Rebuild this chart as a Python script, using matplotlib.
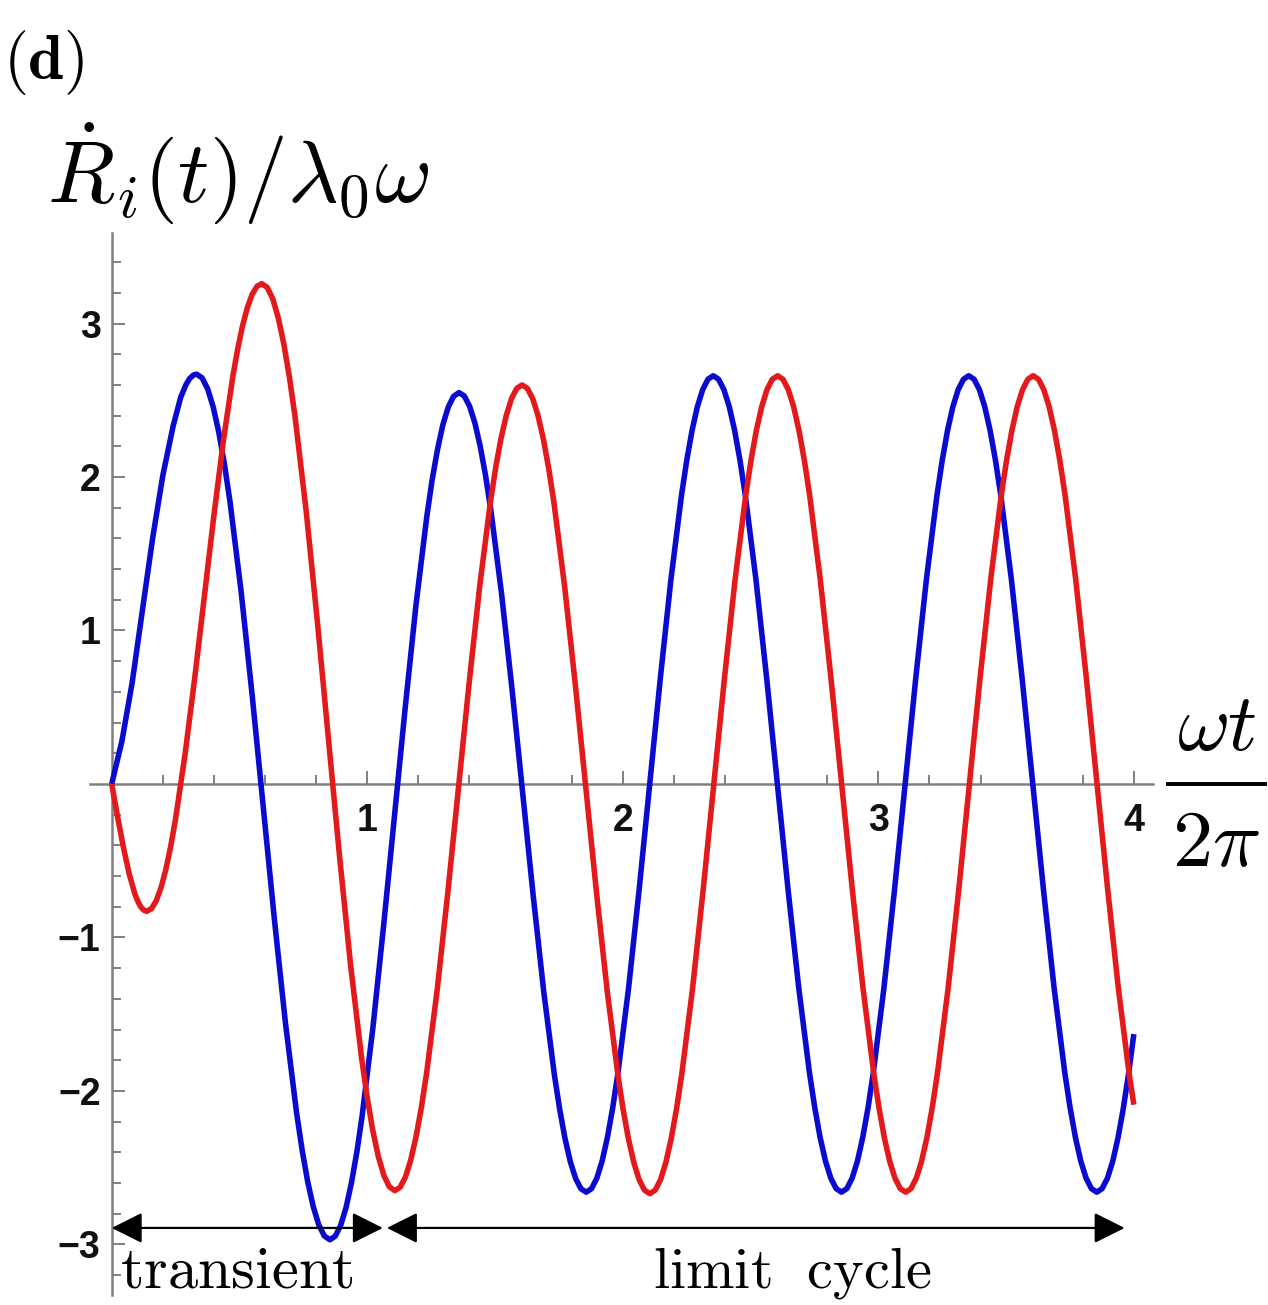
import numpy as np
import matplotlib
matplotlib.use('Agg')
import matplotlib.pyplot as plt
from matplotlib.patches import FancyArrowPatch, ArrowStyle
from matplotlib.lines import Line2D
from matplotlib.ticker import FixedLocator

plt.rcParams['mathtext.fontset'] = 'cm'

# ---- data (x = omega t / 2 pi) ----
blue_x = [0, 0.04, 0.08, 0.12, 0.16, 0.20, 0.24, 0.27, 0.29, 0.305, 0.32,
          0.332, 0.3538, 0.3755, 0.3973, 0.419, 0.4408, 0.4625, 0.506, 0.5495, 0.593, 0.6365, 0.680,
          0.7235, 0.7453, 0.767, 0.7888, 0.8105, 0.8323,
          0.854, 0.8750, 0.896, 0.9171, 0.938, 0.9592, 0.980, 1.022, 1.064, 1.1065, 1.149, 1.191,
          1.233, 1.2538, 1.275, 1.2959, 1.317, 1.3380,
          1.359, 1.3798, 1.4005, 1.4213, 1.442, 1.4628, 1.4835, 1.525, 1.5665, 1.608, 1.6495, 1.691,
          1.7325, 1.7533, 1.774, 1.7948, 1.8155, 1.8363,
          1.857, 1.8777, 1.8984, 1.9191, 1.9398, 1.9606, 1.9813, 2.0227, 2.0641, 2.1055, 2.1469, 2.1883,
          2.2298, 2.2505, 2.2712, 2.2919, 2.3126, 2.3333,
          2.354, 2.3749, 2.3958, 2.4167, 2.4377, 2.4586, 2.4795, 2.5213, 2.5632, 2.605, 2.6468, 2.6887,
          2.7305, 2.7514, 2.7723, 2.7933, 2.8142, 2.8351,
          2.856, 2.8768, 2.8975, 2.9183, 2.939, 2.9598, 2.9805, 3.022, 3.0635, 3.105, 3.1465, 3.188,
          3.2295, 3.2503, 3.271, 3.2918, 3.3125, 3.3333,
          3.354, 3.3749, 3.3958, 3.4166, 3.4375, 3.4584, 3.4793, 3.521, 3.5628, 3.6045, 3.6463, 3.688,
          3.7298, 3.7506, 3.7715, 3.7924, 3.8133, 3.8341,
          3.855, 3.8758, 3.8967, 3.9175, 3.9383, 3.9592, 3.980, 4.0]
blue_y = [0, 0.28, 0.66, 1.13, 1.60, 2.01, 2.33, 2.52, 2.60, 2.642, 2.665,
          2.67, 2.646, 2.574, 2.455, 2.292, 2.087, 1.844, 1.26, 0.580, -0.15, -0.880, -1.56,
          -2.144, -2.387, -2.592, -2.755, -2.874, -2.946,
          -2.97, -2.946, -2.876, -2.760, -2.600, -2.400, -2.162, -1.59, -0.924, -0.21, 0.504, 1.17,
          1.742, 1.980, 2.180, 2.340, 2.456, 2.526,
          2.55, 2.528, 2.461, 2.352, 2.201, 2.012, 1.787, 1.248, 0.619, -0.055, -0.729, -1.358,
          -1.897, -2.122, -2.311, -2.462, -2.571, -2.638,
          -2.66, -2.637, -2.569, -2.458, -2.304, -2.110, -1.881, -1.33, -0.688, 0, 0.688, 1.33,
          1.881, 2.110, 2.304, 2.458, 2.569, 2.637,
          2.66, 2.637, 2.569, 2.458, 2.304, 2.110, 1.881, 1.33, 0.688, 0, -0.688, -1.33,
          -1.881, -2.110, -2.304, -2.458, -2.569, -2.637,
          -2.66, -2.637, -2.569, -2.458, -2.304, -2.110, -1.881, -1.33, -0.688, 0, 0.688, 1.33,
          1.881, 2.110, 2.304, 2.458, 2.569, 2.637,
          2.66, 2.637, 2.569, 2.458, 2.304, 2.110, 1.881, 1.33, 0.688, 0, -0.688, -1.33,
          -1.881, -2.110, -2.304, -2.458, -2.569, -2.637,
          -2.66, -2.637, -2.569, -2.458, -2.304, -2.110, -1.881, -1.63]

red_x = [0, 0.023, 0.046, 0.0685, 0.091, 0.103, 0.114, 0.126,
         0.137, 0.1558, 0.1745, 0.1933, 0.212, 0.2308, 0.2495, 0.287, 0.3245, 0.362, 0.3995, 0.437,
         0.4745, 0.4933, 0.512, 0.5308, 0.5495, 0.5683,
         0.587, 0.6087, 0.6304, 0.6521, 0.6738, 0.6956, 0.7173, 0.7607, 0.8041, 0.8475, 0.8909, 0.9343,
         0.9778, 0.9995, 1.0212, 1.0429, 1.0646, 1.0863,
         1.108, 1.1288, 1.1495, 1.1703, 1.191, 1.2118, 1.2325, 1.274, 1.3155, 1.357, 1.3985, 1.440,
         1.4815, 1.5023, 1.523, 1.5438, 1.5645, 1.5853,
         1.606, 1.6268, 1.6477, 1.6685, 1.6893, 1.7102, 1.731, 1.7727, 1.8143, 1.856, 1.8977, 1.9393,
         1.981, 2.0018, 2.0227, 2.0435, 2.0643, 2.0852,
         2.106, 2.1268, 2.1477, 2.1685, 2.1893, 2.2102, 2.231, 2.2727, 2.3143, 2.356, 2.3977, 2.4393,
         2.481, 2.5018, 2.5227, 2.5435, 2.5643, 2.5852,
         2.606, 2.6269, 2.6478, 2.6686, 2.6895, 2.7104, 2.7313, 2.773, 2.8148, 2.8565, 2.8983, 2.940,
         2.9818, 3.0026, 3.0235, 3.0444, 3.0653, 3.0861,
         3.107, 3.1278, 3.1486, 3.1694, 3.1902, 3.2110, 3.2317, 3.2733, 3.3149, 3.3565, 3.3981, 3.4397,
         3.4812, 3.5020, 3.5228, 3.5436, 3.5644, 3.5852,
         3.606, 3.6268, 3.6477, 3.6685, 3.6893, 3.7102, 3.731, 3.7727, 3.8143, 3.856, 3.8977, 3.9393,
         3.981, 4.0]
red_y = [0, -0.215, -0.415, -0.587, -0.719, -0.768, -0.802, -0.823,
         -0.83, -0.812, -0.760, -0.674, -0.556, -0.407, -0.231, 0.193, 0.686, 1.215, 1.744, 2.238,
         2.661, 2.837, 2.986, 3.104, 3.190, 3.2425,
         3.26, 3.235, 3.160, 3.035, 2.864, 2.649, 2.395, 1.783, 1.070, 0.305, -0.460, -1.173,
         -1.785, -2.039, -2.254, -2.425, -2.549, -2.625,
         -2.65, -2.628, -2.561, -2.450, -2.298, -2.108, -1.881, -1.338, -0.704, -0.025, 0.654, 1.288,
         1.831, 2.058, 2.248, 2.400, 2.511, 2.578,
         2.60, 2.577, 2.510, 2.399, 2.247, 2.055, 1.829, 1.283, 0.647, -0.035, -0.717, -1.353,
         -1.898, -2.126, -2.317, -2.469, -2.580, -2.647,
         -2.67, -2.647, -2.579, -2.467, -2.313, -2.119, -1.890, -1.338, -0.695, -0.005, 0.685, 1.328,
         1.880, 2.109, 2.303, 2.457, 2.569, 2.637,
         2.66, 2.637, 2.569, 2.458, 2.304, 2.110, 1.881, 1.33, 0.688, 0, -0.688, -1.33,
         -1.881, -2.110, -2.304, -2.458, -2.569, -2.637,
         -2.66, -2.637, -2.569, -2.458, -2.304, -2.110, -1.881, -1.33, -0.688, 0, 0.688, 1.33,
         1.881, 2.110, 2.304, 2.458, 2.569, 2.637,
         2.66, 2.637, 2.569, 2.458, 2.304, 2.110, 1.881, 1.33, 0.688, 0, -0.688, -1.33,
         -1.881, -2.09]

x_major = [1, 2, 3, 4]
x_major_labels = ['1', '2', '3', '4']
y_major = [-3, -2, -1, 1, 2, 3]
y_major_labels = ['\u22123', '\u22122', '\u22121', '1', '2', '3']
x_minor = [0.2, 0.4, 0.6, 0.8, 1.2, 1.4, 1.6, 1.8, 2.2, 2.4, 2.6, 2.8, 3.2, 3.4, 3.6, 3.8]
y_minor = [-3.2, -2.8, -2.6, -2.4, -2.2, -1.8, -1.6, -1.4, -1.2, -0.8, -0.6, -0.4, -0.2,
           0.2, 0.4, 0.6, 0.8, 1.2, 1.4, 1.6, 1.8, 2.2, 2.4, 2.6, 2.8, 3.2, 3.4]

transient_span = (0.0, 1.061)
limit_span = (1.077, 3.964)
arrow_level = -2.893

W, H = 1268, 1305
fig = plt.figure(figsize=(W / 100, H / 100), dpi=100)
ax = fig.add_axes([90 / W, 1 - 1295 / H, (1153 - 90) / W, (1295 - 233) / H])
ax.set_xlim(-0.085, 4.075)
ax.set_ylim(-3.33, 3.59)

axis_col = '#808080'
for s in ['top', 'right']:
    ax.spines[s].set_visible(False)
for s in ['left', 'bottom']:
    ax.spines[s].set_position(('data', 0))
    ax.spines[s].set_color(axis_col)
    ax.spines[s].set_linewidth(1.8)

ax.xaxis.set_major_locator(FixedLocator(x_major))
ax.xaxis.set_minor_locator(FixedLocator(x_minor))
ax.yaxis.set_major_locator(FixedLocator(y_major))
ax.yaxis.set_minor_locator(FixedLocator(y_minor))
ax.set_xticklabels(x_major_labels)
ax.set_yticklabels(y_major_labels)
ax.tick_params(which='both', direction='in', color=axis_col, width=1.4)
ax.tick_params(which='major', length=9.5)
ax.tick_params(which='minor', length=6.2)
ax.tick_params(axis='x', which='major', pad=14)
ax.tick_params(axis='y', which='major', pad=8)
for lab in ax.get_xticklabels() + ax.get_yticklabels():
    lab.set_fontfamily('Liberation Sans')
    lab.set_fontweight('bold')
    lab.set_fontsize(27)
    lab.set_color('#111111')

ax.plot(blue_x, blue_y, color='#0a0ad0', lw=4.0, solid_capstyle='butt',
        solid_joinstyle='round', zorder=3)
ax.plot(red_x, red_y, color='#e3191c', lw=4.0, solid_capstyle='butt',
        solid_joinstyle='round', zorder=4)

style = ArrowStyle('<|-|>', head_length=19, head_width=9.5)
for span in (transient_span, limit_span):
    arr = FancyArrowPatch((span[0], arrow_level), (span[1], arrow_level),
                          arrowstyle=style, mutation_scale=1, color='black',
                          lw=1.6, shrinkA=0, shrinkB=0, clip_on=False, zorder=5)
    ax.add_patch(arr)

ax.text(0.032, -3.283, r'$\mathrm{transient}$', fontsize=43.5, ha='left', va='baseline')
ax.text(2.662, -3.283, r'$\mathrm{limit\ \ cycle}$', fontsize=42, ha='center', va='baseline')

fig.text(3 / W, 1 - 28 / H, r'$\mathbf{(d)}$', fontsize=46, ha='left', va='top')
fig.text(47 / W, 1 - 202 / H, r'$\dot{R}_i(t)/\lambda_0\omega$', fontsize=63,
         ha='left', va='baseline')

# x-axis label drawn as a fraction: numerator, bar, denominator
fig.text(1216 / W, 1 - 750 / H, r'$\omega t$', fontsize=58, ha='center', va='baseline')
fig.add_artist(Line2D([1168 / W, 1265 / W], [1 - 784 / H, 1 - 784 / H],
                      transform=fig.transFigure, color='black', lw=2.8))
fig.text(1216 / W, 1 - 866 / H, r'$2\pi$', fontsize=58, ha='center', va='baseline')

fig.savefig('out.png', dpi=100)
